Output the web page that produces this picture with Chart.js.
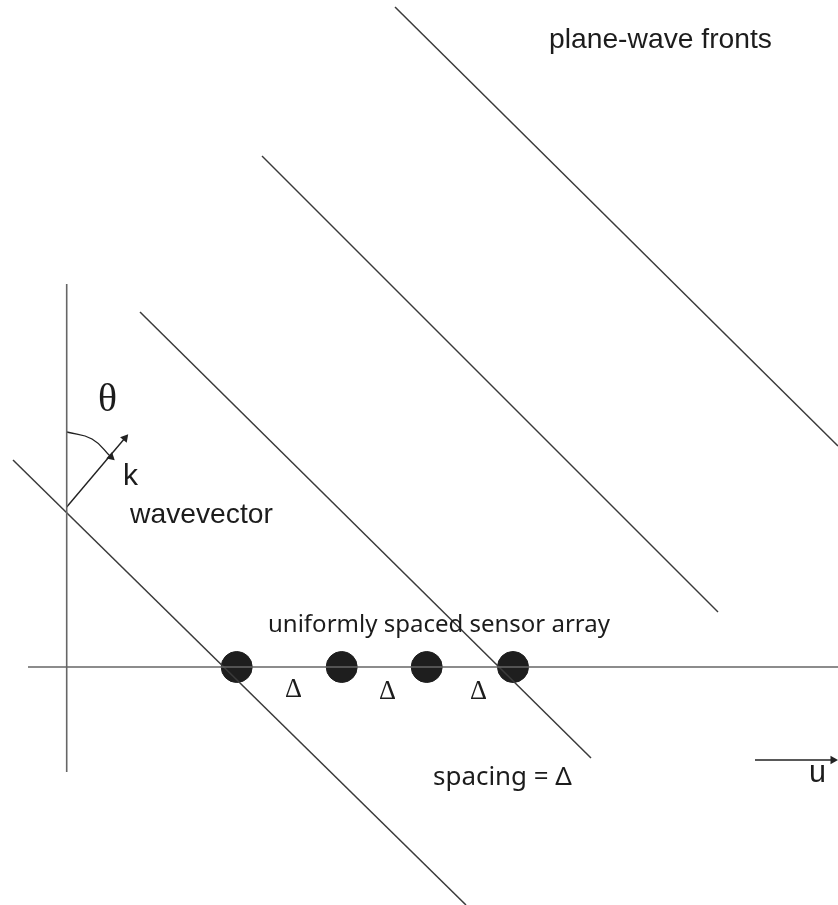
<!DOCTYPE html>
<html>
<head>
<meta charset="utf-8">
<script src="https://cdn.jsdelivr.net/npm/chart.js@4.4.1/dist/chart.umd.min.js"></script>
<style>
  html, body { margin: 0; padding: 0; background: #fff; }
  #wrap { width: 838px; height: 905px; }
</style>
</head>
<body>
<div id="wrap"><canvas id="c"></canvas></div>
<script>
// diagram space = picture pixels, y runs downward
const uAxis = [[28, 667], [838, 667]];
const vAxis = [[66.7, 284], [66.7, 772]];
const fronts = [
  [[13, 460], [466, 905]],
  [[140, 312], [591, 758]],
  [[262, 156], [718, 612]],
  [[395, 7], [838, 446]]
];
const sensorX = [236.7, 341.7, 426.7, 513];
const sensorY = 667;
const kArrow = [[66.7, 507], [125, 438]];
const thetaArc = [[66.7, 432], [92, 439], [111, 457]];
const uArrow = [[755, 760], [833, 760]];

const labels = ["plane-wave fronts", "θ", "k", "wavevector",
  "uniformly spaced sensor array", "Δ", "Δ", "Δ", "spacing = Δ", "u"];

const pts = a => a.map(p => ({ x: p[0], y: p[1] }));

// where each label goes: left x, baseline y, target width, font
const labelLayout = [
  { x: 549, y: 48, w: 223, font: "'Liberation Sans', Arial, sans-serif" },
  { x: 98, y: 411, w: 19, font: "'Liberation Serif', serif" },
  { x: 123, y: 485, w: 15, font: "'Liberation Sans', Arial, sans-serif" },
  { x: 130, y: 523, w: 143, font: "'Liberation Sans', Arial, sans-serif" },
  { x: 268, y: 632, w: 342, font: "'Noto Sans', sans-serif" },
  { x: 285, y: 697, w: 17, font: "'Liberation Serif', serif" },
  { x: 379, y: 699, w: 17, font: "'Liberation Serif', serif" },
  { x: 470, y: 699, w: 17, font: "'Liberation Serif', serif" },
  { x: 433, y: 785, w: 139, font: "'Noto Sans', sans-serif" },
  { x: 809, y: 782, w: 17, font: "'Liberation Sans', Arial, sans-serif" }
];

const lineSet = (data, color, width) => ({
  type: "line", data: pts(data), borderColor: color, borderWidth: width,
  pointRadius: 0, fill: false, showLine: true, clip: false
});

const arrowSet = (data, rot, tension) => ({
  type: "line", data: pts(data), borderColor: "#222", borderWidth: 1.4,
  backgroundColor: "#222", fill: false, showLine: true, clip: false,
  tension: tension || 0,
  pointStyle: "triangle",
  pointRadius: data.map((_, i) => i === data.length - 1 ? 5 : 0),
  pointRotation: rot,
  pointBorderWidth: 0
});

const datasets = [
  lineSet(uAxis, "#666", 1.6),
  lineSet(vAxis, "#666", 1.6),
  ...fronts.map(f => lineSet(f, "#3a3a3a", 1.5)),
  arrowSet(kArrow, 40),
  arrowSet(thetaArc, 132, 0.45),
  arrowSet(uArrow, 90),
  {
    type: "scatter",
    data: sensorX.map(x => ({ x: x, y: sensorY })),
    backgroundColor: "#1e1e1e", borderColor: "#1e1e1e",
    pointRadius: 15.5, pointHoverRadius: 15.5, clip: false
  }
];

const textPlugin = {
  id: "texts",
  afterDatasetsDraw(chart) {
    const ctx = chart.ctx, sx = chart.scales.x, sy = chart.scales.y;
    ctx.save();
    ctx.fillStyle = "#1c1c1c";
    ctx.textBaseline = "alphabetic";
    ctx.textAlign = "left";
    labels.forEach((t, i) => {
      const L = labelLayout[i];
      ctx.font = "20px " + L.font;
      const size = 20 * L.w / ctx.measureText(t).width;
      ctx.font = size.toFixed(2) + "px " + L.font;
      ctx.fillText(t, sx.getPixelForValue(L.x), sy.getPixelForValue(L.y));
    });
    ctx.restore();
  }
};

new Chart(document.getElementById("c"), {
  type: "scatter",
  data: { datasets: datasets },
  options: {
    responsive: true,
    maintainAspectRatio: false,
    animation: false,
    layout: { padding: 0, autoPadding: false },
    plugins: { legend: { display: false }, tooltip: { enabled: false } },
    scales: {
      x: { type: "linear", min: 0, max: 838, display: false },
      y: { type: "linear", min: 0, max: 905, reverse: true, display: false }
    }
  },
  plugins: [textPlugin]
});
</script>
</body>
</html>
